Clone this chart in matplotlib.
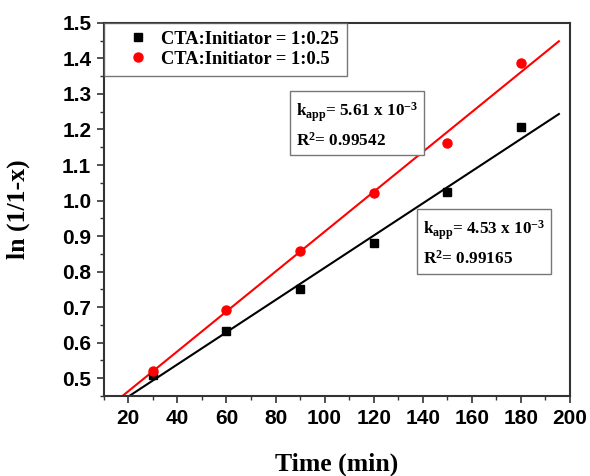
import numpy as np
import matplotlib
matplotlib.use("Agg")
import matplotlib.pyplot as plt
from matplotlib.ticker import MultipleLocator, FormatStrFormatter

plt.rcParams['font.family'] = 'Liberation Sans'
plt.rcParams['font.weight'] = 'bold'
plt.rcParams['mathtext.fontset'] = 'custom'
plt.rcParams['mathtext.rm'] = 'Liberation Serif:bold'
plt.rcParams['mathtext.default'] = 'rm'

# reaction time (min) and ln(1/(1-x)) for the two CTA:initiator ratios
time_min = [30, 60, 90, 120, 150, 180]
ln_025 = [0.508, 0.632, 0.751, 0.881, 1.023, 1.206]
ln_05 = [0.520, 0.693, 0.859, 1.022, 1.161, 1.388]

# apparent rate constants and fit quality
k_025, r2_025 = 4.53e-3, 0.99165
k_05, r2_05 = 5.61e-3, 0.99542

serif = 'Liberation Serif'

fig = plt.figure(figsize=(5.9, 4.76), dpi=100)
ax = fig.add_axes([0.176, 0.168, 0.79, 0.784])

t = np.array(time_min)
tfit = np.linspace(10, 195.5, 50)
for y, k, c in [(ln_025, k_025, 'black'), (ln_05, k_05, 'red')]:
    y = np.array(y)
    b = y.mean() - k * t.mean()
    ax.plot(tfit, k * tfit + b, color=c, lw=1.5, zorder=2)

ax.plot(time_min, ln_025, 's', color='black', ms=6, ls='none',
        label='CTA:Initiator = 1:0.25', zorder=3)
ax.plot(time_min, ln_05, 'o', color='red', ms=6.5, ls='none',
        label='CTA:Initiator = 1:0.5', zorder=3)

ax.set_xlim(10, 200)
ax.set_ylim(0.45, 1.5)
ax.xaxis.set_major_locator(MultipleLocator(20))
ax.xaxis.set_minor_locator(MultipleLocator(10))
ax.yaxis.set_major_locator(MultipleLocator(0.1))
ax.yaxis.set_minor_locator(MultipleLocator(0.05))
ax.yaxis.set_major_formatter(FormatStrFormatter('%.1f'))
ax.tick_params(which='major', direction='out', length=5, width=1.2,
               color='#333333', labelsize=15, pad=4)
ax.tick_params(which='minor', direction='out', length=3, width=1.0, color='#333333')
for s in ax.spines.values():
    s.set_linewidth(1.5)
    s.set_color('#333333')

ax.set_xlabel('Time (min)', family=serif, weight='bold', fontsize=18.5, labelpad=18)
ax.set_ylabel('ln (1/1-x)', family=serif, weight='bold', fontsize=18.5, labelpad=23)

leg = ax.legend(loc='upper left', borderaxespad=0, fancybox=False,
                prop={'family': serif, 'weight': 'bold', 'size': 13.3},
                handlelength=2.9, handletextpad=-0.2,
                borderpad=0.42, labelspacing=0.18)
leg.get_frame().set_edgecolor('#555555')
leg.get_frame().set_linewidth(1.0)

box = dict(boxstyle='square,pad=0.35', fc='white', ec='#777777', lw=1.0)
label_fmt = 'k$_{app}$= %.2f x 10$^{-3}$\nR$^{2}$= %.5f'
ax.text(0.412, 0.792, label_fmt % (k_05 * 1e3, r2_05),
        transform=ax.transAxes, family=serif, weight='bold', fontsize=12.3,
        va='top', ha='left', linespacing=1.55, bbox=box)
ax.text(0.684, 0.475, label_fmt % (k_025 * 1e3, r2_025),
        transform=ax.transAxes, family=serif, weight='bold', fontsize=12.3,
        va='top', ha='left', linespacing=1.55, bbox=box)

fig.savefig('out.png', dpi=100)
